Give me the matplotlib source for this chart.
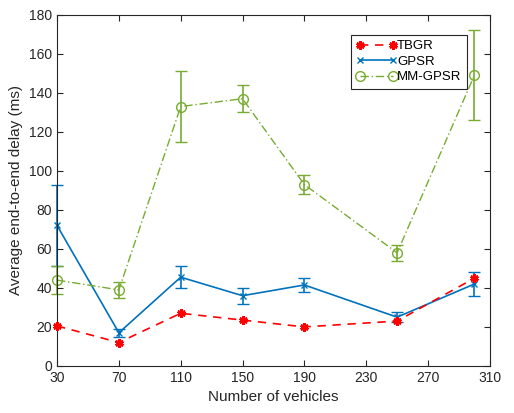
import matplotlib
matplotlib.use('Agg')
import matplotlib.pyplot as plt
from matplotlib.lines import Line2D

plt.rcParams['font.family'] = ['Liberation Sans', 'DejaVu Sans']

# data
vehicles = [30, 70, 110, 150, 190, 250, 300]
tbgr = [20.5, 12, 27, 23.5, 20, 23, 45]
gpsr = [72, 17, 45.5, 36, 41.5, 25, 42]
gpsr_err = [21, 2, 5.5, 4, 3.5, 2.5, 6]
mm_gpsr = [44, 39, 133, 137, 93, 58, 149]
mm_gpsr_err = [7, 4, 18, 7, 5, 4, 23]
xticks = [30, 70, 110, 150, 190, 230, 270, 310]

red = '#FF0000'
blue = '#0072BD'
green = '#77AC30'
star = (6, 2, 0)  # asterisk like matlab '*'

fig = plt.figure(figsize=(5.14, 4.13), dpi=100)
ax = fig.add_axes([0.111, 0.114, 0.842, 0.850])

ax.plot(vehicles, tbgr, color=red, linestyle=(0, (5, 4)), marker=star,
        markersize=6, markeredgewidth=2, linewidth=1.2, clip_on=False, zorder=3)
eb1 = ax.errorbar(vehicles, gpsr, yerr=gpsr_err, color=blue, linestyle='-',
                  marker='x', markersize=5, linewidth=1.2, capsize=4,
                  elinewidth=1.2, zorder=2)
eb2 = ax.errorbar(vehicles, mm_gpsr, yerr=mm_gpsr_err, color=green,
                  linestyle=(0, (6, 2, 1, 2)), marker='o', markerfacecolor='none',
                  markersize=7, linewidth=1.0, capsize=4, elinewidth=1.2, zorder=2)
for eb in (eb1, eb2):
    for art in eb.lines[1]:
        art.set_clip_on(False)
    for art in eb.lines[2]:
        art.set_clip_on(False)
    eb.lines[0].set_clip_on(False)

ax.set_xlim(30, 310)
ax.set_ylim(0, 180)
ax.set_xticks(xticks)
ax.set_yticks(range(0, 181, 20))
ax.tick_params(direction='in', top=True, right=True, labelsize=10,
               colors='#262626', length=4)
for s in ax.spines.values():
    s.set_color('#262626')
    s.set_linewidth(0.8)
ax.set_xlabel('Number of vehicles', fontsize=11, color='#262626')
ax.set_ylabel('Average end-to-end delay (ms)', fontsize=11, color='#262626')

handles = [
    Line2D([], [], color=red, linestyle=(0, (5, 4)), marker=star,
           markersize=6, markeredgewidth=2, linewidth=1.2),
    Line2D([], [], color=blue, linestyle='-', marker='x', markersize=5,
           linewidth=1.2),
    Line2D([], [], color=green, linestyle=(0, (6, 2, 1, 2)), marker='o',
           markerfacecolor='none', markersize=7, linewidth=1.0),
]
leg = ax.legend(handles, ['TBGR', 'GPSR', 'MM-GPSR'], loc='upper left',
                bbox_to_anchor=(0.679, 0.943), borderaxespad=0, fontsize=9.5,
                fancybox=False, edgecolor='#262626', handlelength=3.1,
                handletextpad=0.0, borderpad=0.4, labelspacing=0.25,
                numpoints=2, framealpha=1)
leg.get_frame().set_linewidth(0.8)

fig.savefig('out.png', dpi=100)
